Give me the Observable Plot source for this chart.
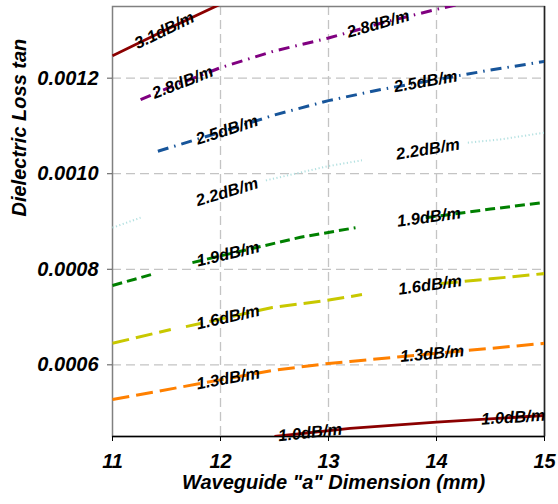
<!DOCTYPE html>
<html>
<head>
<meta charset="utf-8">
<script src="https://cdn.jsdelivr.net/npm/d3@7"></script>
<script src="https://cdn.jsdelivr.net/npm/@observablehq/plot@0.6"></script>
<style>
  html, body { margin: 0; padding: 0; background: #fff; }
  #chart svg { display: block; }
</style>
</head>
<body>
<div id="chart"></div>
<script>
// Axis ticks
const xTicks = [11, 12, 13, 14, 15];                 // waveguide "a" dimension (mm)
const yTicks = [0.0006, 0.0008, 0.0010, 0.0012];     // dielectric loss tangent

// Constant-attenuation contours: a (mm) vs loss tangent; null breaks a curve
const a31 = [11.0, 11.5, 12.0, 12.25];
const t31 = [0.001247, 0.001302, 0.001355, 0.00138];

const a28 = [11.26, 11.5, 12.0, 12.5, 13.0, 13.5, 14.0, 14.5];
const t28 = [0.001155, 0.001178, 0.001222, 0.001257, 0.001284, 0.001316, 0.001344, 0.00137];

const a25 = [11.42, 12.0, 12.5, 13.0, 13.5, 14.0, 14.5, 15.0];
const t25 = [0.001047, 0.001087, 0.001123, 0.001153, 0.001177, 0.001197, 0.001217, 0.001235];

const a22 = [11.0, 11.26, 11.8, 12.42, 13.0, 13.31, 13.8, 14.29, 14.6, 15.0];
const t22 = [0.000887, 0.000908, null, 0.000986, 0.001016, 0.001028, null, 0.001065, 0.001072, 0.001086];

const a19 = [11.0, 11.39, 11.55, 11.74, 12.0, 12.74, 13.25, 13.6, 13.9, 14.5, 15.0];
const t19 = [0.000766, 0.000791, null, 0.000814, 0.000828, 0.000867, 0.000887, null, 0.000908, 0.000926, 0.00094];

const a16 = [11.0, 11.54, 11.6, 11.68, 12.0, 12.48, 12.99, 13.31, 13.7, 14.04, 14.5, 15.0];
const t16 = [0.000645, 0.000674, null, 0.00068, 0.000696, 0.00072, 0.000735, 0.000747, null, 0.00077, 0.00078, 0.000791];

const a13 = [11.0, 12.0, 12.48, 13.0, 13.2, 14.0, 15.0];
const t13 = [0.0005275, 0.0005685, 0.000588, 0.000603, 0.000607, 0.000624, 0.000645];

const a10 = [12.5, 13.2, 14.0, 15.0];
const t10 = [0.00045, 0.000467, 0.00048, 0.000494];

// Contour labels: level and the "a" value where each label sits on its curve
const labelLevel = [3.1, 2.8, 2.8, 2.5, 2.5, 2.2, 2.2, 1.9, 1.9, 1.6, 1.6, 1.3, 1.3, 1.0, 1.0];
const labelAt = [11.48, 11.65, 13.46, 12.06, 13.9, 12.06, 13.92, 12.07, 13.93, 12.07, 13.94, 12.07, 13.96, 12.83, 14.71];

const series = [
  {level: 3.1, a: a31, t: t31},
  {level: 2.8, a: a28, t: t28},
  {level: 2.5, a: a25, t: t25},
  {level: 2.2, a: a22, t: t22},
  {level: 1.9, a: a19, t: t19},
  {level: 1.6, a: a16, t: t16},
  {level: 1.3, a: a13, t: t13},
  {level: 1.0, a: a10, t: t10}
];

// Line styling per contour
const lineStyle = {
  "3.1": {stroke: "#8b0000", width: 2.8, dash: null},
  "2.8": {stroke: "#800080", width: 3, dash: "11,6,1.5,6"},
  "2.5": {stroke: "#17559a", width: 3, dash: "11,6,1.5,6"},
  "2.2": {stroke: "#b4e1e1", width: 2, dash: "1.2,2.4"},
  "1.9": {stroke: "#008000", width: 3, dash: "10,5"},
  "1.6": {stroke: "#c8c800", width: 3, dash: "17,7"},
  "1.3": {stroke: "#ff8000", width: 3, dash: "17,7"},
  "1.0": {stroke: "#8b0000", width: 2.8, dash: null}
};

const W = 558, H = 504;
const M = {top: 6, right: 14, bottom: 68, left: 112};
const xDomain = [11, 15];
const yDomain = [0.00045, 0.00135];

const xScale = Plot.scale({x: {domain: xDomain, range: [M.left, W - M.right]}});
const yScale = Plot.scale({y: {domain: yDomain, range: [H - M.bottom, M.top]}});

// Position on a curve at a given "a", plus the local on-screen angle
function along(a, t, x) {
  const pts = a.map((v, i) => [v, t[i]]).filter(p => p[1] != null);
  let i = pts.findIndex((p, j) => j < pts.length - 1 && x >= p[0] && x <= pts[j + 1][0]);
  if (i < 0) i = x < pts[0][0] ? 0 : pts.length - 2;
  const [a1, t1] = pts[i], [a2, t2] = pts[i + 1];
  const k = (x - a1) / (a2 - a1);
  const dx = xScale.apply(a2) - xScale.apply(a1);
  const dy = yScale.apply(t2) - yScale.apply(t1);
  return {t: t1 + k * (t2 - t1), angle: Math.atan2(dy, dx) * 180 / Math.PI};
}

const labels = labelLevel.map((lv, i) => {
  const s = series.find(d => d.level === lv);
  const p = along(s.a, s.t, labelAt[i]);
  return {level: lv, a: labelAt[i], t: p.t, angle: p.angle};
});

const lineMarks = series.map(s => {
  const st = lineStyle[s.level.toFixed(1)];
  const rows = s.a.map((a, i) => ({a, t: s.t[i]}));
  return Plot.line(rows, {
    x: "a", y: "t",
    stroke: st.stroke, strokeWidth: st.width,
    strokeDasharray: st.dash, strokeLinecap: "butt",
    clip: true
  });
});

const chart = Plot.plot({
  width: W, height: H,
  marginTop: M.top, marginRight: M.right, marginBottom: M.bottom, marginLeft: M.left,
  x: {domain: xDomain},
  y: {domain: yDomain},
  style: {
    fontFamily: "'Liberation Sans', Arial, sans-serif",
    fontWeight: "bold", fontStyle: "italic",
    color: "black", background: "white"
  },
  marks: [
    Plot.gridX({ticks: [12, 13, 14], stroke: "#c4c4c4", strokeOpacity: 1, strokeWidth: 1.3, strokeDasharray: "9,5"}),
    Plot.gridY({ticks: yTicks, stroke: "#c4c4c4", strokeOpacity: 1, strokeWidth: 1.3, strokeDasharray: "9,5"}),
    Plot.frame({stroke: "#808080", strokeWidth: 1.5}),
    Plot.ruleX([xDomain[1]], {stroke: "#222", strokeWidth: 1.5}),
    Plot.ruleY([yDomain[0]], {stroke: "black", strokeWidth: 1.5}),
    ...lineMarks,
    Plot.text(labels, {
      x: "a", y: "t", rotate: "angle",
      text: d => `${d.level.toFixed(1)}dB/m`,
      fontSize: 16.5, fontWeight: "bold", fontStyle: "italic", fill: "black"
    }),
    Plot.axisX({ticks: xTicks, tickSize: 5, tickPadding: 12, tickFormat: d => d, fontSize: 20, label: null, stroke: "black"}),
    Plot.axisY({ticks: yTicks, tickSize: 5, tickPadding: 9, tickFormat: d3.format(".4f"), fontSize: 20, label: null, stroke: "#555"}),
    Plot.text(['Waveguide "a" Dimension (mm)'], {text: d => d, frameAnchor: "bottom", dy: 52, dx: 5, fontSize: 20}),
    Plot.text(["Dielectric Loss tan"], {text: d => d, frameAnchor: "left", dx: -93, dy: -5, rotate: -90, fontSize: 20})
  ]
});

document.getElementById("chart").appendChild(chart);
</script>
</body>
</html>
